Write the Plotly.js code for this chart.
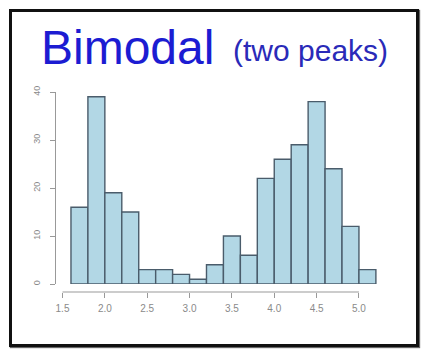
<!DOCTYPE html>
<html>
<head>
<meta charset="utf-8">
<script src="https://cdn.plot.ly/plotly-3.0.1.min.js"></script>
<style>
  html, body { margin:0; padding:0; background:#fff; }
  #wrap { position:relative; width:429px; height:361px; }
  #chart { position:absolute; left:0; top:0; width:429px; height:361px; }
  #frame { position:absolute; left:9px; top:9px; width:404px; height:332px;
           border:3px solid #111; box-shadow:1px 1px 1px #666; pointer-events:none; }
</style>
</head>
<body>
<div id="wrap">
  <div id="chart"></div>
  <div id="frame"></div>
</div>
<script>
// Histogram bins (left edges) and counts
const binEdges = [1.6,1.8,2.0,2.2,2.4,2.6,2.8,3.0,3.2,3.4,3.6,3.8,4.0,4.2,4.4,4.6,4.8,5.0,5.2];
const counts   = [16,39,19,15,3,3,2,1,4,10,6,22,26,29,38,24,12,3];
const xTicks   = [1.5,2.0,2.5,3.0,3.5,4.0,4.5,5.0];
const xTickLabels = ["1.5","2.0","2.5","3.0","3.5","4.0","4.5","5.0"];
const yTicks   = [0,10,20,30,40];
const yTickLabels = ["0","10","20","30","40"];
const titleMain = "Bimodal";
const titleSub  = "(two peaks)";

const centers = counts.map((c,i)=> (binEdges[i]+binEdges[i+1])/2);
const widths  = counts.map((c,i)=> binEdges[i+1]-binEdges[i]);

const trace = {
  type:'bar', x:centers, y:counts, width:widths,
  marker:{color:'#b2d7e5', line:{color:'#4a5c6b', width:1.4}},
  hoverinfo:'none'
};

const layout = {
  width:429, height:361,
  margin:{l:56, r:49, t:92, b:69},
  paper_bgcolor:'#fff', plot_bgcolor:'rgba(0,0,0,0)',
  showlegend:false,
  bargap:0,
  xaxis:{
    range:[1.4233, 5.2485], anchor:'free', position:0,
    tickvals:xTicks, ticktext:xTickLabels,
    ticks:'outside', ticklen:5, tickcolor:'#999', tickwidth:1,
    showline:false, showgrid:false, zeroline:false,
    ticklabelstandoff:2,
    tickfont:{family:'Liberation Sans, Arial, sans-serif', size:10, color:'#8a8a8a'}
  },
  yaxis:{
    range:[0,40], domain:[0.04,1], anchor:'x',
    tickvals:yTicks, ticktext:yTickLabels, tickangle:-90,
    ticks:'outside', ticklen:5, tickcolor:'#999', tickwidth:1,
    showline:true, linecolor:'#999', linewidth:1,
    showgrid:false, zeroline:false,
    ticklabelstandoff:6,
    tickfont:{family:'Liberation Sans, Arial, sans-serif', size:9, color:'#8a8a8a'}
  },
  shapes:[{type:'line', xref:'x', yref:'paper', x0:xTicks[0], x1:xTicks[xTicks.length-1], y0:0, y1:0,
           line:{color:'#999', width:1}}],
  annotations:[
    {text:titleMain, xref:'paper', yref:'paper', x:-0.053, y:1.2225, xanchor:'left', yanchor:'middle',
     showarrow:false, font:{family:'Liberation Sans, Arial, sans-serif', size:48, color:'#1c1cd2'}},
    {text:titleSub, xref:'paper', yref:'paper', x:0.54, y:1.21, xanchor:'left', yanchor:'middle',
     showarrow:false, font:{family:'Liberation Sans, Arial, sans-serif', size:30, color:'#2a2ab8'}}
  ]
};

Plotly.newPlot('chart', [trace], layout, {staticPlot:true, displayModeBar:false});
</script>
</body>
</html>
